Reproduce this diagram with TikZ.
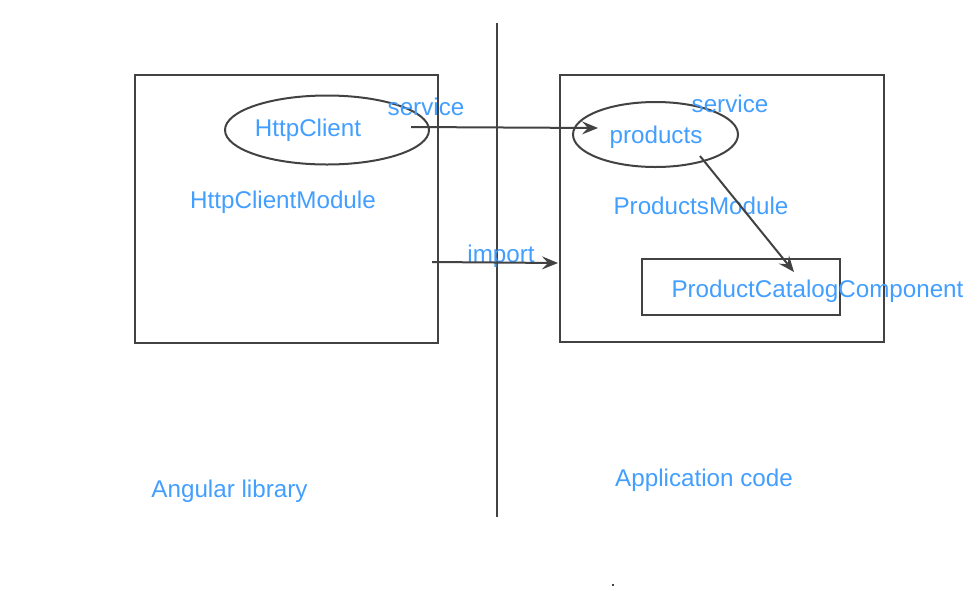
\documentclass[tikz,border=0pt]{standalone}
\usepackage{fontspec}
\setmainfont{Liberation Sans}
\usetikzlibrary{shapes.geometric,arrows.meta}
\definecolor{txtblue}{RGB}{66,158,255}
\definecolor{linegray}{RGB}{66,66,66}
\tikzset{
  lbl/.style={text=txtblue, font=\fontsize{24.2}{27}\selectfont, inner sep=0pt, anchor=base},
  frame/.style={draw=linegray, line width=2pt, rectangle, inner sep=0pt},
  oval/.style={draw=linegray, line width=2pt, ellipse, inner sep=0pt},
  conn/.style={draw=linegray, line width=2pt, -{Stealth[length=16pt,width=13pt,inset=6pt]}},
}
\begin{document}
\begin{tikzpicture}[x=1pt,y=-1pt]
\useasboundingbox (0,0) rectangle (979,590);
% divider
\coordinate (divtop) at (497,23);
\coordinate (divbot) at (497,517);
\draw[linegray, line width=2pt] (divtop) -- (divbot);
% module boxes
\node[frame, minimum width=303pt, minimum height=268pt] (leftbox) at (286.5,209) {};
\node[frame, minimum width=324pt, minimum height=267pt] (rightbox) at (722,208.5) {};
\node[frame, minimum width=198pt, minimum height=56pt] (catbox) at (741,287) {};
% ellipses
\node[oval, minimum width=204pt, minimum height=69pt] (httpell) at (327,130) {};
\node[oval, minimum width=165pt, minimum height=65pt] (prodell) at (655.5,134.5) {};
% labels
\node[lbl] (httpclient) at (308,136) {HttpClient};
\node[lbl] (svc1) at (426,115) {service};
\node[lbl] (httpmod) at (283,208.5) {HttpClientModule};
\node[lbl] (products) at (656,143) {products};
\node[lbl] (svc2) at (730,112) {service};
\node[lbl] (prodmod) at (701,214) {ProductsModule};
\node[lbl] (import) at (501,262) {import};
\node[lbl] (catalog) at (817.5,297.5) {ProductCatalogComponent};
\node[lbl] (anglib) at (229.5,497) {Angular library};
\node[lbl] (appcode) at (704,486) {Application code};
% connectors
\coordinate (a1s) at (411,127);
\coordinate (a1e) at (598,128);
\draw[conn] (a1s) -- (a1e);
\coordinate (a2s) at (432,262);
\coordinate (a2e) at (558,263);
\draw[conn] (a2s) -- (a2e);
\coordinate (a3s) at (700,156);
\coordinate (a3e) at (794,272);
\draw[conn] (a3s) -- (a3e);
% stray dot
\fill[linegray] (612,583.5) rectangle (614,585.5);
\end{tikzpicture}
\end{document}
